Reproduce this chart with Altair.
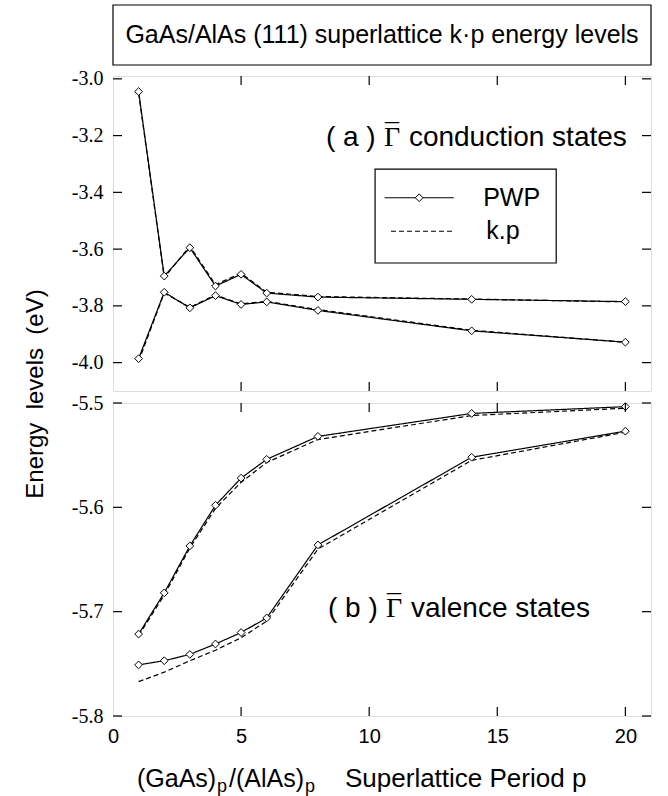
import altair as alt
import pandas as pd

# ---------------- data ----------------
P = [1, 2, 3, 4, 5, 6, 8, 14, 20]

# (a) conduction states
A_UPPER_PWP = [-3.045, -3.695, -3.595, -3.730, -3.689, -3.755, -3.769, -3.777, -3.785]
A_UPPER_KP = [-3.050, -3.700, -3.590, -3.725, -3.685, -3.752, -3.767, -3.776, -3.786]
A_LOWER_PWP = [-3.986, -3.752, -3.807, -3.764, -3.795, -3.786, -3.816, -3.888, -3.928]
A_LOWER_KP = [-3.995, -3.755, -3.805, -3.762, -3.793, -3.784, -3.813, -3.886, -3.928]

# (b) valence states
B_UPPER_PWP = [-5.7215, -5.682, -5.637, -5.598, -5.572, -5.554, -5.532, -5.510, -5.5035]
B_UPPER_KP = [-5.723, -5.684, -5.639, -5.601, -5.576, -5.557, -5.535, -5.512, -5.505]
B_LOWER_PWP = [-5.751, -5.747, -5.741, -5.731, -5.720, -5.706, -5.636, -5.552, -5.527]
B_LOWER_KP = [-5.767, -5.758, -5.747, -5.737, -5.725, -5.709, -5.640, -5.555, -5.528]

X_TICKS = [0, 5, 10, 15, 20]
X_INNER_TICKS = [5, 10, 15, 20]
A_Y_TICKS = [-3.0, -3.2, -3.4, -3.6, -3.8, -4.0]
B_Y_TICKS = [-5.5, -5.6, -5.7, -5.8]

METHODS = ["PWP", "k.p"]

TITLE = "GaAs/AlAs (111) superlattice k\u00b7p energy levels"

# ---------------- layout constants ----------------
W = 538
HA = 315
HB = 313
TL = 9  # inward tick length
SANS = "Liberation Sans"
SERIF = "Liberation Serif"


def long(series):
    rows = []
    for branch, method, vals in series:
        for p, v in zip(P, vals):
            rows.append({"p": p, "E": v, "branch": branch, "method": method})
    return pd.DataFrame(rows)


dfA = long([("up", "PWP", A_UPPER_PWP), ("up", "k.p", A_UPPER_KP),
            ("lo", "PWP", A_LOWER_PWP), ("lo", "k.p", A_LOWER_KP)])
dfB = long([("up", "PWP", B_UPPER_PWP), ("up", "k.p", B_UPPER_KP),
            ("lo", "PWP", B_LOWER_PWP), ("lo", "k.p", B_LOWER_KP)])

xs = alt.Scale(domain=[0, 21], nice=False, zero=False)
ysA = alt.Scale(domain=[-4.1, -2.99], nice=False, zero=False)
ysB = alt.Scale(domain=[-5.8, -5.5], nice=False, zero=False)

hy = "replace(format(datum.value, '.1f'), '\u2212', '-')"


def yaxis(vals):
    return alt.Axis(values=vals, labelExpr=hy, ticks=False, tickSize=0, domain=False,
                    grid=False, title=None, labelFont=SERIF, labelFontSize=20,
                    labelPadding=10, labelColor="black")


yaxA = yaxis(A_Y_TICKS)
yaxB = yaxis(B_Y_TICKS)
xaxB = alt.Axis(values=X_TICKS, ticks=False, tickSize=0, domain=False, grid=False,
                title=None, labelFont=SANS, labelFontSize=20, labelPadding=10,
                labelFlush=False, labelColor="black")

dash = alt.StrokeDash("method:N", scale=alt.Scale(domain=METHODS, range=[[1, 0], [5, 3]]),
                      legend=None)


def panel(df, ys, yax, xax, yticks, H):
    X = lambda: alt.X("p:Q", scale=xs, axis=xax)
    Y = lambda: alt.Y("E:Q", scale=ys, axis=yax)
    lines = alt.Chart(df).mark_line(color="black", strokeWidth=1.2).encode(
        x=X(), y=Y(), detail="branch:N", strokeDash=dash)
    pts = alt.Chart(df[df.method == "PWP"]).mark_point(
        shape="diamond", filled=True, fill="white", stroke="black", strokeWidth=1,
        size=60, opacity=1).encode(x=X(), y=Y())
    ydf = pd.DataFrame({"E": yticks})
    xdf = pd.DataFrame({"p": X_INNER_TICKS})
    tl = alt.Chart(ydf).mark_rule(color="black", strokeWidth=1.2).encode(
        y=Y(), x=alt.value(0), x2=alt.value(TL))
    tr = alt.Chart(ydf).mark_rule(color="black", strokeWidth=1.2).encode(
        y=Y(), x=alt.value(W - TL), x2=alt.value(W))
    tt = alt.Chart(xdf).mark_rule(color="black", strokeWidth=1.2).encode(
        x=X(), y=alt.value(0), y2=alt.value(TL))
    tb = alt.Chart(xdf).mark_rule(color="black", strokeWidth=1.2).encode(
        x=X(), y=alt.value(H - TL), y2=alt.value(H))
    return [lines, pts, tl, tr, tt, tb], X, Y


def panel_label(X, Y, p, E, tag, words):
    """'( a ) Γ̄ words' built from pieces so the bar sits over the Gamma."""
    FS = 28
    out = []
    base = pd.DataFrame({"p": [p], "E": [E]})
    out.append(alt.Chart(base).mark_text(align="left", baseline="middle", font=SANS,
                                         fontSize=FS, color="black").encode(
        x=X(), y=Y(), text=alt.value(tag)))
    out.append(alt.Chart(base).mark_text(align="left", baseline="middle", font=SERIF,
                                         fontSize=FS, color="black", dx=58).encode(
        x=X(), y=Y(), text=alt.value("\u0393")))
    out.append(alt.Chart(base).mark_text(align="center", baseline="middle", font=SERIF,
                                         fontSize=FS, color="black", dx=66, dy=-3).encode(
        x=X(), y=Y(), text=alt.value("\u00af")))
    out.append(alt.Chart(base).mark_text(align="left", baseline="middle", font=SANS,
                                         fontSize=FS, color="black", dx=83).encode(
        x=X(), y=Y(), text=alt.value(words)))
    return out


# ---------- top panel ----------
layersA, XA, YA = panel(dfA, ysA, yaxA, None, A_Y_TICKS, HA)
labA = panel_label(XA, YA, 8.31, -3.207, "( a )", "conduction states")

leg_box = alt.Chart(pd.DataFrame({"p": [10.23], "p2": [17.3], "E": [-3.318], "E2": [-3.649]})).mark_rect(
    fill="white", stroke="black", strokeWidth=1.2).encode(
    x=XA(), x2="p2:Q", y=YA(), y2="E2:Q")
leg_lines = alt.Chart(pd.DataFrame({"p": [10.6, 10.85], "p2": [13.3, 13.3],
                                     "E": [-3.419, -3.537], "method": METHODS})).mark_rule(
    color="black", strokeWidth=1.2).encode(x=XA(), x2="p2:Q", y=YA(), strokeDash=dash)
leg_pt = alt.Chart(pd.DataFrame({"p": [11.95], "E": [-3.419]})).mark_point(
    shape="diamond", filled=True, fill="white", stroke="black", strokeWidth=1, size=60,
    opacity=1).encode(x=XA(), y=YA())
leg_txt = alt.Chart(pd.DataFrame({"p": [14.45, 14.57], "E": [-3.419, -3.537], "t": METHODS})).mark_text(
    align="left", baseline="middle", font=SANS, fontSize=25, color="black").encode(
    x=XA(), y=YA(), text="t:N")

one = pd.DataFrame({"a": [0]})
title_box = alt.Chart(one).mark_rect(fill="white", stroke="black", strokeWidth=1.2).encode(
    x=alt.value(0), x2=alt.value(W), y=alt.value(-71), y2=alt.value(-11))
title_txt = alt.Chart(one).mark_text(font=SANS, fontSize=25, color="black",
                                     baseline="middle", align="center").encode(
    x=alt.value(W / 2), y=alt.value(-41), text=alt.value(TITLE))
ytitle = alt.Chart(one).mark_text(font=SANS, fontSize=24, color="black", angle=270,
                                  baseline="middle", align="center").encode(
    x=alt.value(-77), y=alt.value(318), text=alt.value("Energy\u00a0 levels\u00a0 (eV)"))

top = alt.layer(*layersA, *labA, leg_box, leg_lines, leg_pt, leg_txt,
                title_box, title_txt, ytitle).properties(width=W, height=HA)

# ---------- bottom panel ----------
layersB, XB, YB = panel(dfB, ysB, yaxB, xaxB, B_Y_TICKS, HB)
labB = panel_label(XB, YB, 8.39, -5.697, "( b )", "valence states")

XT_Y = HB + 63
xt_parts = pd.DataFrame({
    "t": ["(GaAs)", "p", "/(AlAs)", "p", "Superlattice Period p"],
    "x": [24, 104, 116, 192, 232],
    "dy": [0, 8, 0, 8, 0],
    "fs": [25, 18, 25, 18, 26],
})
xt_layers = []
for _, r in xt_parts.iterrows():
    xt_layers.append(alt.Chart(one).mark_text(
        font=SANS, fontSize=int(r.fs), color="black", align="left", baseline="middle").encode(
        x=alt.value(int(r.x)), y=alt.value(XT_Y + int(r.dy)), text=alt.value(r.t)))

bottom = alt.layer(*layersB, *labB, *xt_layers).properties(width=W, height=HB)

chart = alt.vconcat(top, bottom, spacing=12, bounds="flush").properties(
    padding={"left": 23, "top": 3, "right": 5, "bottom": 2}
).configure_view(stroke="black", strokeWidth=1.5).configure(background="white")

chart.save("out.html", embed_options={"renderer": "svg", "actions": False})
